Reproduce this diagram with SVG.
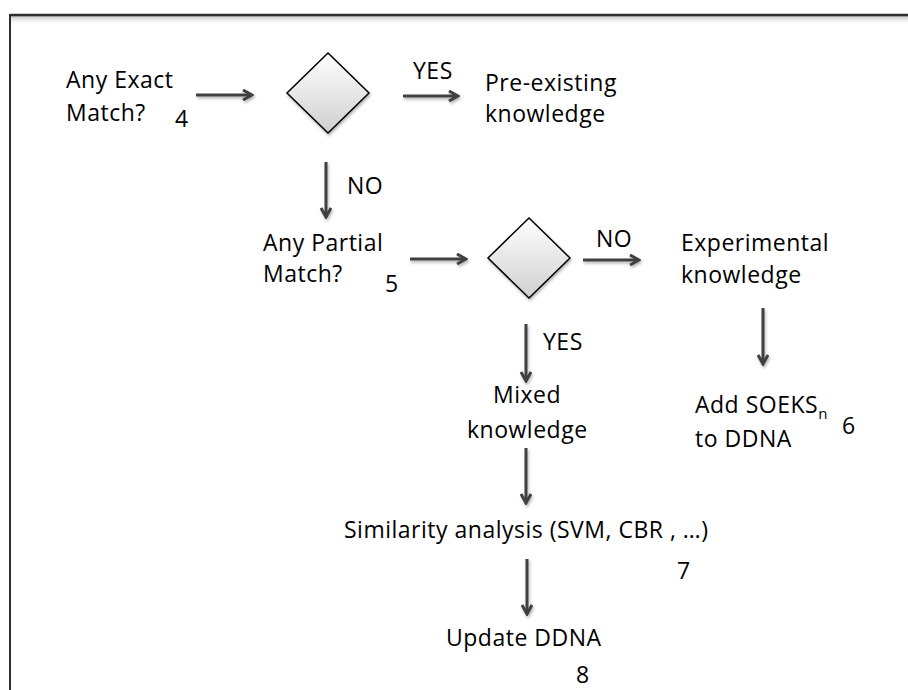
<svg xmlns="http://www.w3.org/2000/svg" width="908" height="690" viewBox="0 0 908 690">
  <defs>
    <style>
      .t { font-family: "Open Sans", "Liberation Sans", sans-serif; font-size: 23px; letter-spacing: 0.5px; fill: #000; }
      .c { fill: none; stroke: #404040; stroke-width: 3; }
      .d { fill: url(#dg); stroke: #000; stroke-width: 1.5; }
    </style>
    <linearGradient id="dg" x1="0" y1="0" x2="0" y2="1">
      <stop offset="0" stop-color="#ffffff"/>
      <stop offset="1" stop-color="#cfcfcf"/>
    </linearGradient>
    <linearGradient id="topShade" x1="0" y1="0" x2="0" y2="1">
      <stop offset="0" stop-color="#bdbdbd"/>
      <stop offset="1" stop-color="#ffffff" stop-opacity="0"/>
    </linearGradient>
    <filter id="sh" x="-20%" y="-20%" width="140%" height="140%">
      <feDropShadow dx="1" dy="2" stdDeviation="1.5" flood-color="#000" flood-opacity="0.3"/>
    </filter>
    <marker id="ah" viewBox="0 0 12 12" refX="10" refY="6" markerWidth="12" markerHeight="12" markerUnits="userSpaceOnUse" orient="auto">
      <path d="M1,1 L10,6 L1,11" fill="none" stroke="#404040" stroke-width="3" stroke-linejoin="miter"/>
    </marker>
  </defs>

  <rect width="908" height="690" fill="#fff"/>

  <!-- frame -->
  <g id="frame">
    <rect x="10" y="16" width="898" height="9" fill="url(#topShade)"/>
    <line x1="10" y1="15" x2="908" y2="15" stroke="#2e2e2e" stroke-width="2.5"/>
    <line x1="10" y1="14" x2="10" y2="690" stroke="#2e2e2e" stroke-width="2"/>
  </g>

  <!-- connectors -->
  <g id="connectors" filter="url(#sh)">
    <line class="c" x1="196" y1="95" x2="252" y2="95" marker-end="url(#ah)"/>
    <line class="c" x1="403" y1="96" x2="458" y2="96" marker-end="url(#ah)"/>
    <line class="c" x1="326" y1="162" x2="326" y2="217" marker-end="url(#ah)"/>
    <line class="c" x1="410" y1="259" x2="466" y2="259" marker-end="url(#ah)"/>
    <line class="c" x1="583" y1="260" x2="639" y2="260" marker-end="url(#ah)"/>
    <line class="c" x1="763" y1="308" x2="763" y2="364" marker-end="url(#ah)"/>
    <line class="c" x1="526" y1="324" x2="526" y2="381" marker-end="url(#ah)"/>
    <line class="c" x1="526" y1="448" x2="526" y2="503" marker-end="url(#ah)"/>
    <line class="c" x1="527" y1="559" x2="527" y2="614" marker-end="url(#ah)"/>
  </g>

  <!-- edge labels -->
  <g id="edge-labels">
    <text class="t" x="413" y="79">YES</text>
    <text class="t" x="347" y="194">NO</text>
    <text class="t" x="596" y="247">NO</text>
    <text class="t" x="543" y="350">YES</text>
  </g>

  <g id="exact-match">
    <text class="t" x="66" y="88">Any Exact</text>
    <text class="t" x="66" y="121">Match?</text>
    <text class="t" x="175" y="127">4</text>
  </g>

  <g id="decision-exact">
    <polygon class="d" points="328,53 369,93 328,133 287,93" filter="url(#sh)"/>
  </g>

  <g id="pre-existing">
    <text class="t" x="485" y="91">Pre-existing</text>
    <text class="t" x="485" y="122">knowledge</text>
  </g>

  <g id="partial-match">
    <text class="t" x="263" y="251">Any Partial</text>
    <text class="t" x="263" y="282">Match?</text>
    <text class="t" x="385" y="292">5</text>
  </g>

  <g id="decision-partial">
    <polygon class="d" points="529,218 570,258 529,298 488,258" filter="url(#sh)"/>
  </g>

  <g id="experimental">
    <text class="t" x="681" y="251">Experimental</text>
    <text class="t" x="681" y="283">knowledge</text>
  </g>

  <g id="add-soeks">
    <text class="t" x="695" y="413">Add SOEKS<tspan dy="6" font-size="15">n</tspan></text>
    <text class="t" x="695" y="447">to DDNA</text>
    <text class="t" x="842" y="434">6</text>
  </g>

  <g id="mixed">
    <text class="t" x="493" y="403">Mixed</text>
    <text class="t" x="467" y="438">knowledge</text>
  </g>

  <g id="similarity">
    <text class="t" x="344" y="538">Similarity analysis (SVM, CBR , …)</text>
    <text class="t" x="677" y="579">7</text>
  </g>

  <g id="update">
    <text class="t" x="446" y="646">Update DDNA</text>
    <text class="t" x="576" y="683">8</text>
  </g>
</svg>
